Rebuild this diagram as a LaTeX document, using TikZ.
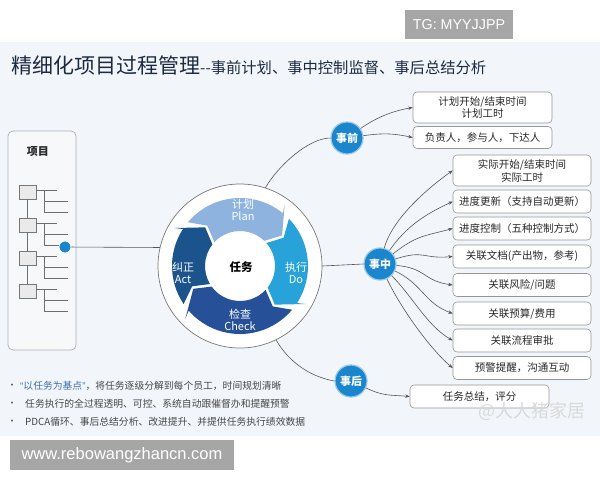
\documentclass[tikz,border=0pt]{standalone}
\usepackage{fontspec}
\setmainfont{Noto Sans CJK SC}
\newfontfamily\arialf{Liberation Sans}
\usetikzlibrary{arrows.meta}
\definecolor{bgc}{RGB}{242,246,250}
\definecolor{navy}{RGB}{28,42,66}
\definecolor{nodeblue}{RGB}{27,134,204}
\definecolor{nodering}{RGB}{150,200,235}
\definecolor{plancol}{RGB}{141,179,222}
\definecolor{docol}{RGB}{40,163,218}
\definecolor{checkcol}{RGB}{38,80,152}
\definecolor{actcol}{RGB}{27,84,140}
\definecolor{linec}{RGB}{85,85,85}
\definecolor{boxline}{RGB}{150,150,150}
\definecolor{txt}{RGB}{40,40,40}
\definecolor{wmgrey}{RGB}{166,166,166}
\definecolor{bullettxt}{RGB}{70,70,70}
\definecolor{quoteblue}{RGB}{60,110,170}
\definecolor{panelline}{RGB}{170,175,182}
\definecolor{panelfill}{RGB}{247,248,250}
\definecolor{sqline}{RGB}{120,120,120}
\definecolor{sqfill}{RGB}{234,234,234}
\definecolor{treeline}{RGB}{110,110,110}
\definecolor{ringline}{RGB}{120,120,120}
\newcommand\fs[2]{\fontsize{#1}{#2}\selectfont}
\newcommand\pdcaseg[3]{%
  \fill[#1] ({#2-2}:68) -- ({#2+9}:52) -- ({#2+1}:35)
    arc[start angle={#2+1}, end angle={#3-4}, radius=35]
    -- ({#3+6}:52) -- ({#3-12}:76) -- ({#3-9}:68)
    arc[start angle={#3-9}, end angle={#2-2}, radius=68] -- cycle;}
\begin{document}
\begin{tikzpicture}[x=1pt,y=-1pt,
  bx/.style={draw=boxline, fill=white, rounded corners=4pt, line width=0.6pt, inner sep=0pt, minimum width=138pt, minimum height=23pt, align=center, text=txt, font=\fs{10.5}{13}},
  phase/.style={circle, fill=nodeblue, draw=nodering, line width=1.2pt, minimum size=32pt, inner sep=0pt, text=white, font=\fs{11}{13}\bfseries},
  conn/.style={draw=linec, line width=0.6pt},
  arr/.style={conn, -{Stealth[length=4.5pt,width=3.5pt]}},
  sq/.style={draw=sqline, fill=sqfill, line width=0.6pt, minimum width=17pt, minimum height=14pt, inner sep=0pt},
  tl/.style={draw=treeline, line width=0.6pt},
  seglbl/.style={text=white, align=center, font=\fs{11}{12.5}},
  bul/.style={anchor=west, inner sep=0pt, text=bullettxt, font=\fs{9.8}{12}},
]
\useasboundingbox (0,0) rectangle (600,480);
\fill[white] (0,0) rectangle (600,480);
\fill[bgc] (0,42) rectangle (600,436);

% watermark boxes
\node[fill=wmgrey, minimum width=108pt, minimum height=29pt, inner sep=0pt, text=white, font=\arialf\fs{14.3}{16}] (tg) at (459,24.5) {TG: MYYJJPP};
\node[fill=wmgrey, minimum width=224pt, minimum height=30pt, inner sep=0pt, text=white, font=\arialf\fs{16.5}{18}] (www) at (122,455) {www.rebowangzhancn.com};

% title
\node[anchor=base west, inner sep=0pt, text=navy] (title) at (11,73) {\fs{21}{24}精细化项目过程管理\fs{15.3}{18}-{}-事前计划、事中控制监督、事后总结分析};

% left panel
\node[draw=panelline, fill=panelfill, rounded corners=5pt, line width=0.7pt, minimum width=68pt, minimum height=219pt, inner sep=0pt] (panel) at (42,240.5) {};
\node[font=\fs{11}{13}\bfseries, text=txt] (xm) at (38,152) {项目};
\node[sq] (s1) at (27.5,192) {};
\node[sq] (s2) at (27.5,225) {};
\node[sq] (s3) at (27.5,258) {};
\node[sq] (s4) at (27.5,291) {};
\draw[tl] (s1.south) -- (s2.north);
\draw[tl] (s2.south) -- (s3.north);
\draw[tl] (s3.south) -- (s4.north);
\foreach \s in {s1,s2,s3,s4}{
  \draw[tl] ([yshift=2pt]\s.east) -- ++(21,0);
  \draw[tl] ([yshift=2pt,xshift=8pt]\s.east) -- ++(0,22);
  \draw[tl] ([yshift=-9pt,xshift=8pt]\s.east) -- ++(24,0);
  \draw[tl] ([yshift=-20pt,xshift=8pt]\s.east) -- ++(24,0);
}

% central cycle
\node[circle, draw=ringline, fill=white, line width=0.7pt, minimum size=164pt, inner sep=0pt] (cyc) at (240,266) {};
\begin{scope}[shift={(240,266)}]
  \pdcaseg{plancol}{222}{318}
  \pdcaseg{docol}{318}{402}
  \pdcaseg{checkcol}{402}{508}
  \pdcaseg{actcol}{508}{582}
\end{scope}
\node[seglbl] (plan) at (243,210) {计划\\Plan};
\node[seglbl] (do) at (296,273) {执行\\Do};
\node[seglbl] (check) at (240,320) {检查\\Check};
\node[seglbl] (act) at (183,273) {纠正\\Act};
\node[font=\fs{11.5}{13}\bfseries, text=black] (task) at (241,267) {任务};

% blue dot from project panel
\node[circle, fill=nodeblue, draw=white, line width=0.8pt, minimum size=12pt, inner sep=0pt] (dot) at (65,247) {};
\draw[conn] (dot) -- (cyc.167);

% phase nodes
\node[phase] (qian) at (347,138) {事前};
\node[phase] (zz) at (380,264) {事中};
\node[phase] (hou) at (351,381) {事后};
\draw[conn] (cyc.72) .. controls +(-60:25) and +(180:22) .. (qian.west);
\draw[conn] (cyc.east) -- (zz.west);
\draw[conn] (cyc.-64) .. controls +(60:25) and +(190:25) .. (hou.west);

% boxes
\node[bx, minimum width=139pt, minimum height=31pt] (b1) at (482.5,107.5) {计划开始/结束时间\\计划工时};
\node[bx, minimum width=139pt, minimum height=22pt] (b2) at (482.5,137.5) {负责人，参与人，下达人};
\node[bx, minimum height=31pt] (b3) at (522,170.5) {实际开始/结束时间\\实际工时};
\node[bx] (b4) at (522,201.5) {进度更新（支持自动更新）};
\node[bx] (b5) at (522,228.5) {进度控制（五种控制方式）};
\node[bx] (b6) at (522,256.5) {关联文档(产出物，参考)};
\node[bx] (b7) at (522,285) {关联风险/问题};
\node[bx] (b8) at (522,313.5) {关联预算/费用};
\node[bx] (b9) at (522,340.5) {关联流程审批};
\node[bx] (b10) at (522,368) {预警提醒，沟通互动};
\node[bx, minimum width=139pt] (b11) at (479.5,396.5) {任务总结，评分};

\draw[arr] (qian.35) .. controls +(-35:20) and +(170:20) .. (b1.west);
\draw[arr] (qian.8) .. controls +(-8:20) and +(192:20) .. (b2.west);
\foreach \t/\a/\b in {b3/75/35, b4/55/25, b5/38/15, b6/18/5, b7/-5/-8, b8/-25/-20, b9/-45/-30, b10/-65/-40}{
  \draw[arr] (zz.\a) .. controls +({-\a}:30) and +({180-\b}:30) .. (\t.west);
}
\draw[arr] (hou.-25) .. controls +(25:20) and +(185:20) .. (b11.west);

% faint source mark
\node[text=gray!30, font=\fs{18}{20}] (wm) at (532,411) {@大大猪家居};

% bullet notes
\node[text=bullettxt, font=\fs{9}{10}] (d1) at (12,386) {•};
\node[text=bullettxt, font=\fs{9}{10}] (d2) at (12,404) {•};
\node[text=bullettxt, font=\fs{9}{10}] (d3) at (12,422) {•};
\node[bul] (l1) at (20,386) {\textcolor{quoteblue}{{\arialf “}以任务为基点{\arialf ”}}，将任务逐级分解到每个员工，时间规划清晰};
\node[bul] (l2) at (25,404) {任务执行的全过程透明、可控、系统自动跟催督办和提醒预警};
\node[bul] (l3) at (25,422) {PDCA循环、事后总结分析、改进提升、并提供任务执行绩效数据};
\end{tikzpicture}
\end{document}
